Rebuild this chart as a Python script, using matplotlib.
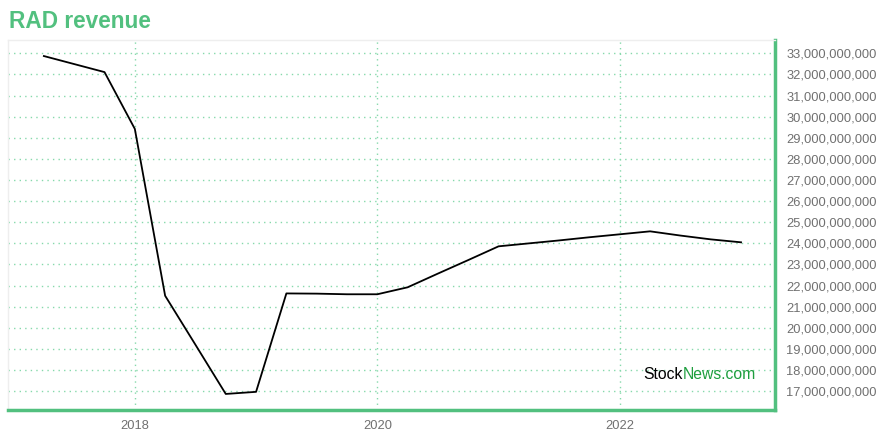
import matplotlib.pyplot as plt
from matplotlib.ticker import FuncFormatter, MultipleLocator

# quarterly revenue (trailing), decimal years
quarters = [2017.25, 2017.5, 2017.75, 2018.0, 2018.25, 2018.5, 2018.75, 2019.0,
            2019.25, 2019.5, 2019.75, 2020.0, 2020.25, 2020.5, 2020.75, 2021.0,
            2021.25, 2021.5, 2021.75, 2022.0, 2022.25, 2022.5, 2022.75, 2023.0]
revenue_bn = [32.87, 32.49, 32.11, 29.42, 21.52, 19.2, 16.87, 16.97,
              21.63, 21.62, 21.59, 21.59, 21.92, 22.57, 23.21, 23.86,
              24.0, 24.14, 24.29, 24.43, 24.57, 24.37, 24.19, 24.05]
revenue = [v * 1e9 for v in revenue_bn]
x_ticks = [2018, 2020, 2022]
x_labels = ['2018', '2020', '2022']

green = '#52c07f'
grid_green = '#86d9ab'

plt.rcParams['font.family'] = ['Liberation Sans', 'DejaVu Sans']

fig = plt.figure(figsize=(8.8, 4.4), dpi=100)
ax = fig.add_axes([8 / 880, 30 / 440, 767 / 880, 370 / 440])

ax.plot(quarters, revenue, color='black', lw=1.3)

ax.set_xlim(2016.954, 2023.28)
ax.set_ylim(16.11e9, 33.63e9)

ax.set_xticks(x_ticks)
ax.set_xticklabels(x_labels)
ax.yaxis.set_major_locator(MultipleLocator(1e9))
ax.yaxis.set_major_formatter(FuncFormatter(lambda v, p: f'{v:,.0f}'))
ax.yaxis.tick_right()
ax.tick_params(axis='both', length=0, labelsize=9.3, labelcolor='#707070')
ax.tick_params(axis='y', pad=8)
ax.tick_params(axis='x', pad=7)

ax.grid(True, color=grid_green, linestyle=(0, (1, 3)), lw=1)
ax.set_axisbelow(True)

for s in ['top', 'left']:
    ax.spines[s].set_color('#eeeeee')
    ax.spines[s].set_linewidth(1)
for s in ['right', 'bottom']:
    ax.spines[s].set_color(green)
    ax.spines[s].set_linewidth(2.5)

fig.text(9 / 880, 1 - 22 / 440, 'RAD revenue', color=green, fontsize=16.3,
         fontweight='bold', va='center', ha='left')

# watermark
t1 = fig.text(643 / 880, 1 - 374 / 440, 'Stock', color='black', fontsize=11.3,
              va='center', ha='left')
fig.canvas.draw()
bb = t1.get_window_extent()
fig.text(bb.x1 / 880, 1 - 374 / 440, 'News.com', color='#1e9e3e', fontsize=11.3,
         va='center', ha='left')

fig.savefig('out.png', dpi=100)
